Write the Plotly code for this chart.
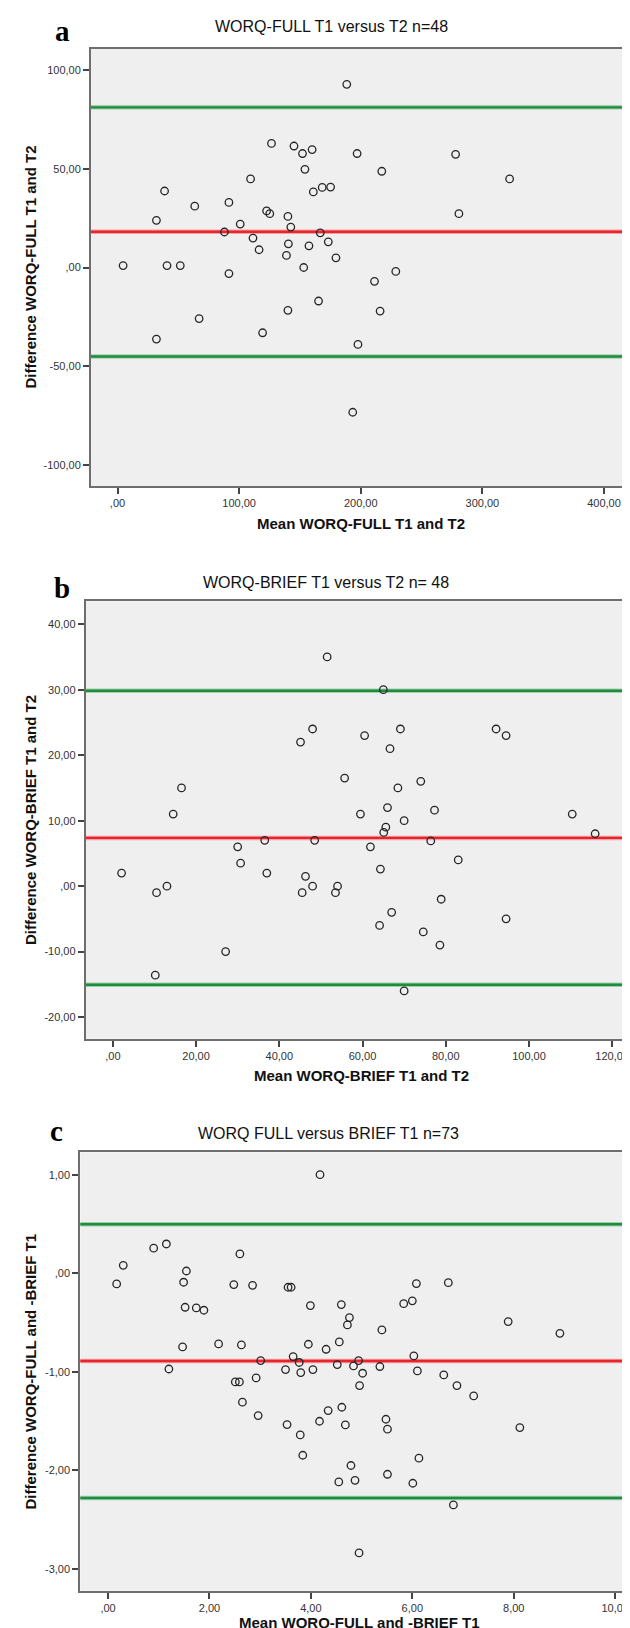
import plotly.graph_objects as go

# ---------------- Panel a data ----------------
a_mean = [188.5, 126.6, 145.1, 152.1, 160.0, 197.0, 278.0, 154.1, 217.3, 109.4,
          322.4, 38.7, 161.0, 168.3, 175.2, 63.5, 91.6, 122.6, 125.2, 140.1,
          280.7, 32.0, 100.9, 142.5, 87.9, 166.7, 111.4, 140.5, 157.4, 173.3,
          116.4, 138.9, 179.6, 4.6, 40.7, 51.6, 153.1, 91.6, 228.8, 211.3,
          165.3, 140.1, 215.9, 67.1, 119.3, 32.0, 197.7, 193.4]
a_diff = [92.9, 62.9, 61.6, 57.8, 59.8, 57.8, 57.4, 49.8, 48.8, 44.9,
          44.9, 38.8, 38.3, 40.6, 40.8, 31.1, 33.0, 28.7, 27.3, 25.9,
          27.3, 23.9, 22.0, 20.5, 18.0, 17.6, 14.9, 12.0, 11.0, 13.0,
          9.0, 6.1, 4.9, 1.0, 1.0, 1.0, 0.0, -3.1, -2.0, -7.0,
          -17.0, -21.7, -22.1, -25.9, -33.1, -36.3, -39.0, -73.4]
a_mean_line = 18.1
a_limits = [81.2, -45.1]
a_xticks = [0, 100, 200, 300, 400]
a_xticktext = [",00", "100,00", "200,00", "300,00", "400,00"]
a_yticks = [-100, -50, 0, 50, 100]
a_yticktext = ["-100,00", "-50,00", ",00", "50,00", "100,00"]

# ---------------- Panel b data ----------------
b_mean = [51.5, 65.0, 45.1, 48.0, 60.5, 66.6, 69.1, 92.1, 94.5,
          55.7, 74.0, 16.5, 68.5, 66.0, 77.3, 14.5, 59.5, 70.0, 65.6,
          65.1, 110.4, 115.9, 36.5, 48.5, 76.4, 30.0, 61.9, 30.7, 83.0,
          2.1, 37.0, 64.3, 46.3, 13.0, 48.0, 54.0, 10.5, 45.5, 53.5,
          78.9, 67.0, 94.5, 64.1, 74.6, 78.6, 27.1, 10.2, 70.0]
b_diff = [35.0, 30.0, 22.0, 24.0, 23.0, 21.0, 24.0, 24.0, 23.0,
          16.5, 16.0, 15.0, 15.0, 12.0, 11.6, 11.0, 11.0, 10.0, 9.0,
          8.2, 11.0, 8.0, 7.0, 7.0, 6.9, 6.0, 6.0, 3.5, 4.0,
          2.0, 2.0, 2.6, 1.5, 0.0, 0.0, 0.0, -1.0, -1.0, -1.0,
          -2.0, -4.0, -5.0, -6.0, -7.0, -9.0, -10.0, -13.6, -16.0]
b_mean_line = 7.37
b_limits = [29.85, -15.07]
b_xticks = [0, 20, 40, 60, 80, 100, 120]
b_xticktext = [",00", "20,00", "40,00", "60,00", "80,00", "100,00", "120,00"]
b_yticks = [-20, -10, 0, 10, 20, 30, 40]
b_yticktext = ["-20,00", "-10,00", ",00", "10,00", "20,00", "30,00", "40,00"]

# ---------------- Panel c data ----------------
c_mean = [4.18, 0.90, 1.15, 2.60, 0.30, 1.545, 0.17, 1.49, 2.48, 2.85,
          3.55, 3.61, 6.08, 6.71, 1.52, 1.74, 1.89, 3.99, 4.60, 5.83,
          6.00, 4.76, 4.72, 7.89, 5.40, 8.91, 1.47, 2.18, 2.63, 3.95,
          4.30, 4.56, 3.01, 3.65, 3.77, 4.94, 6.03, 1.20, 3.50, 3.80,
          4.04, 4.52, 4.84, 5.02, 5.36, 6.10, 6.62, 6.88, 7.21, 2.51,
          2.59, 2.92, 4.96, 2.65, 4.61, 4.34, 2.96, 5.48, 4.17, 3.53,
          4.68, 5.51, 8.12, 3.79, 3.84, 6.13, 4.79, 5.51, 4.55, 4.87,
          6.01, 6.81, 4.95]
c_diff = [1.00, 0.254, 0.297, 0.196, 0.081, 0.023, -0.108, -0.091, -0.115, -0.122,
          -0.142, -0.142, -0.105, -0.095, -0.345, -0.352, -0.375, -0.328, -0.318, -0.308,
          -0.28, -0.45, -0.524, -0.49, -0.575, -0.609, -0.747, -0.717, -0.727, -0.72,
          -0.771, -0.697, -0.886, -0.845, -0.905, -0.886, -0.839, -0.971, -0.977, -1.007,
          -0.977, -0.926, -0.94, -1.014, -0.946, -0.991, -1.031, -1.139, -1.244, -1.102,
          -1.102, -1.062, -1.139, -1.308, -1.359, -1.393, -1.444, -1.481, -1.501, -1.535,
          -1.538, -1.582, -1.565, -1.64, -1.846, -1.876, -1.95, -2.039, -2.117, -2.10,
          -2.13, -2.35, -2.837]
c_mean_line = -0.89
c_limits = [0.497, -2.28]
c_xticks = [0, 2, 4, 6, 8, 10]
c_xticktext = [",00", "2,00", "4,00", "6,00", "8,00", "10,00"]
c_yticks = [-3, -2, -1, 0, 1]
c_yticktext = ["-3,00", "-2,00", "-1,00", ",00", "1,00"]

titles = ["WORQ-FULL T1 versus T2 n=48",
          "WORQ-BRIEF T1 versus T2 n= 48",
          "WORQ FULL versus BRIEF T1 n=73"]
xtitles = ["Mean WORQ-FULL T1 and T2",
           "Mean WORQ-BRIEF T1 and T2",
           "Mean WORQ-FULL and -BRIEF T1"]
ytitles = ["Difference WORQ-FULL T1 and T2",
           "Difference WORQ-BRIEF T1 and T2",
           "Difference WORQ-FULL and -BRIEF T1"]
letters = ["a", "b", "c"]

W, H = 630, 1628
def py(px):  # pixel from top -> paper y
    return 1 - px / H
def pxx(px):
    return px / W

panels = [
    dict(mean=a_mean, diff=a_diff, m=a_mean_line, lim=a_limits,
         xt=a_xticks, xtt=a_xticktext, yt=a_yticks, ytt=a_yticktext,
         xdom=[pxx(83), pxx(623)], ydom=[py(478), py(41)],
         xr=[-21.8, 422.2], yr=[-110.8, 110.8], mirror_y=True,
         title_xy=(324, 19), letter_xy=(54, 23), xt_y=515, yt_x=22),
    dict(mean=b_mean, diff=b_diff, m=b_mean_line, lim=b_limits,
         xt=b_xticks, xtt=b_xticktext, yt=b_yticks, ytt=b_yticktext,
         xdom=[pxx(77.8), 1.0], ydom=[py(1030.7), py(593.3)],
         xr=[-6.5, 126.2], yr=[-23.3, 43.5], mirror_y=False,
         title_xy=(318, 574), letter_xy=(54, 580), xt_y=1067, yt_x=22),
    dict(mean=c_mean, diff=c_diff, m=c_mean_line, lim=c_limits,
         xt=c_xticks, xtt=c_xticktext, yt=c_yticks, ytt=c_yticktext,
         xdom=[pxx(72.3), 1.0], ydom=[py(1582.7), py(1144.3)],
         xr=[-0.547, 10.45], yr=[-3.22, 1.227], mirror_y=False,
         title_xy=(320, 1125), letter_xy=(48, 1123), xt_y=1614, yt_x=22),
]

fig = go.Figure()
layout = dict(width=W, height=H, margin=dict(l=0, r=0, t=0, b=0),
              paper_bgcolor="white", plot_bgcolor="#efefef",
              showlegend=False, annotations=[], shapes=[])

FRAME = "#6e6e6e"
GREEN = "#1f8b3f"
RED = "#e8242c"
SANS = "Liberation Sans, Arial"

for i, p in enumerate(panels):
    n = "" if i == 0 else str(i + 1)
    xa, ya = "x" + n, "y" + n
    fig.add_trace(go.Scatter(
        x=p["mean"], y=p["diff"], mode="markers", xaxis=xa, yaxis=ya,
        marker=dict(symbol="circle-open", size=7.5, color="#262626",
                    line=dict(width=1.3, color="#262626")),
        hoverinfo="x+y"))
    layout["xaxis" + n] = dict(
        domain=p["xdom"], range=p["xr"], anchor=ya,
        tickmode="array", tickvals=p["xt"], ticktext=p["xtt"],
        ticks="outside", ticklen=6, tickwidth=1.5, tickcolor="#444",
        showgrid=False, zeroline=False,
        showline=True, linecolor=FRAME, linewidth=2, mirror=True,
        tickfont=dict(family=SANS, size=11, color="#333"))
    layout["yaxis" + n] = dict(
        domain=p["ydom"], range=p["yr"], anchor=xa,
        tickmode="array", tickvals=p["yt"], ticktext=p["ytt"],
        ticks="outside", ticklen=6, tickwidth=1.5, tickcolor="#444",
        showgrid=False, zeroline=False,
        showline=True, linecolor=FRAME, linewidth=2, mirror=p["mirror_y"],
        tickfont=dict(family=SANS, size=11, color="#333"))
    for val, col, halo in [(p["lim"][0], GREEN, "#9fd0ab"),
                           (p["lim"][1], GREEN, "#9fd0ab"),
                           (p["m"], RED, "#f4a0a4")]:
        layout["shapes"].append(dict(type="line", xref=xa + " domain", yref=ya,
                                     x0=0, x1=1, y0=val, y1=val, layer="below",
                                     line=dict(color=halo, width=4.5)))
        layout["shapes"].append(dict(type="line", xref=xa + " domain", yref=ya,
                                     x0=0, x1=1, y0=val, y1=val, layer="below",
                                     line=dict(color=col, width=2.4)))
    tx, ty = p["title_xy"]
    layout["annotations"].append(dict(
        text=titles[i], x=pxx(tx), y=py(ty), xref="paper", yref="paper",
        showarrow=False, xanchor="center", yanchor="middle",
        font=dict(family=SANS, size=16, color="#111")))
    lx, ly = p["letter_xy"]
    layout["annotations"].append(dict(
        text="<b>" + letters[i] + "</b>", x=pxx(lx), y=py(ly), xref="paper", yref="paper",
        showarrow=False, xanchor="center", yanchor="middle",
        font=dict(family="Liberation Serif, Times New Roman", size=29, color="#000")))
    xc = (p["xdom"][0] + p["xdom"][1]) / 2
    layout["annotations"].append(dict(
        text="<b>" + xtitles[i] + "</b>", x=xc, y=py(p["xt_y"]), xref="paper", yref="paper",
        showarrow=False, xanchor="center", yanchor="middle",
        font=dict(family=SANS, size=15, color="#111")))
    yc = (p["ydom"][0] + p["ydom"][1]) / 2
    layout["annotations"].append(dict(
        text="<b>" + ytitles[i] + "</b>", x=pxx(p["yt_x"]), y=yc, xref="paper", yref="paper",
        showarrow=False, xanchor="center", yanchor="middle", textangle=-90,
        font=dict(family=SANS, size=15, color="#111")))

fig.update_layout(**layout)
fig.write_html("out.html")
